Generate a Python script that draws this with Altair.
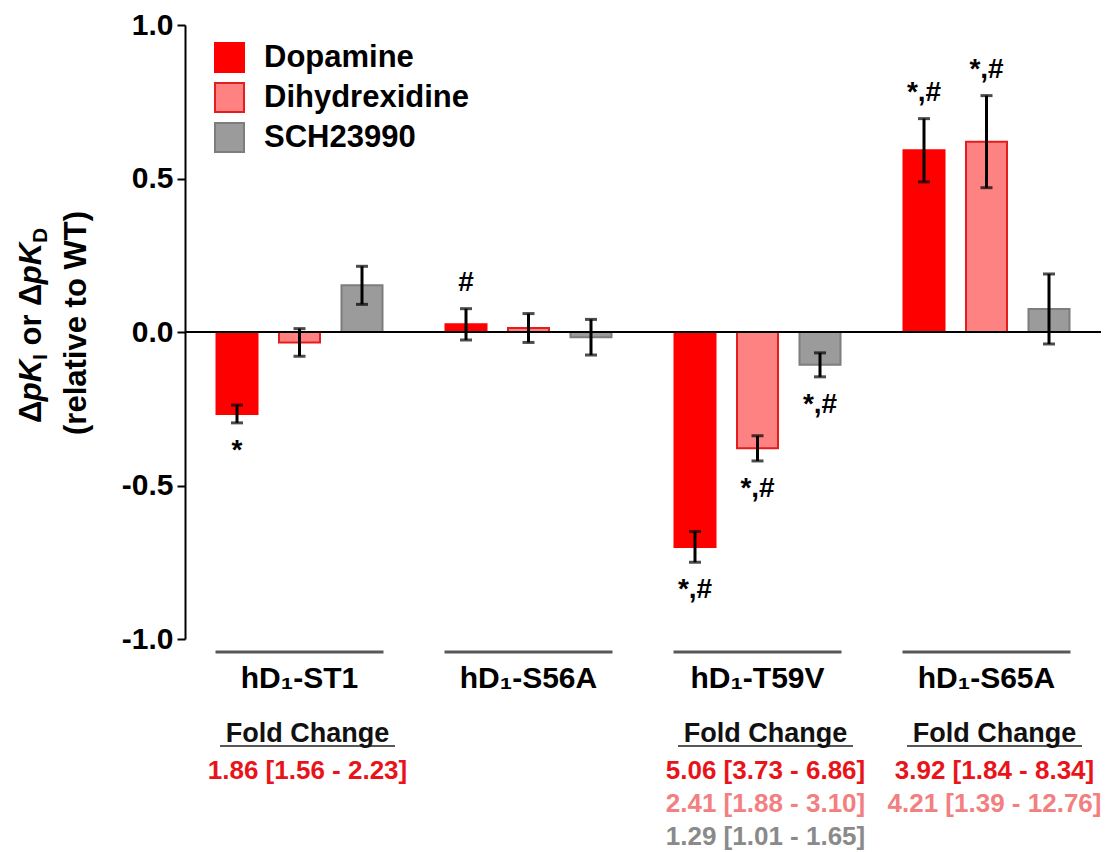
import altair as alt
import pandas as pd

FONT = "Liberation Sans"

groups = ["hD₁-ST1", "hD₁-S56A", "hD₁-T59V", "hD₁-S65A"]
drugs = ["Dopamine", "Dihydrexidine", "SCH23990"]

dopamine_mean = [-0.267, 0.025, -0.700, 0.592]
dopamine_sem = [0.029, 0.051, 0.050, 0.103]
dihydrexidine_mean = [-0.034, 0.013, -0.379, 0.620]
dihydrexidine_sem = [0.045, 0.047, 0.041, 0.150]
sch_mean = [0.152, -0.017, -0.107, 0.075]
sch_sem = [0.062, 0.058, 0.039, 0.114]

dopamine_sig = ["*", "#", "*,#", "*,#"]
dihydrexidine_sig = ["", "", "*,#", "*,#"]
sch_sig = ["", "", "*,#", ""]

fold_header_groups = ["hD₁-ST1", "hD₁-T59V", "hD₁-S65A"]
fold_groups = ["hD₁-ST1", "hD₁-T59V", "hD₁-T59V", "hD₁-T59V", "hD₁-S65A", "hD₁-S65A"]
fold_drugs = ["Dopamine", "Dopamine", "Dihydrexidine", "SCH23990", "Dopamine", "Dihydrexidine"]
fold_labels = ["1.86 [1.56 - 2.23]", "5.06 [3.73 - 6.86]", "2.41 [1.88 - 3.10]",
               "1.29 [1.01 - 1.65]", "3.92 [1.84 - 8.34]", "4.21 [1.39 - 12.76]"]

fill_colors = ["#ff0000", "#ff8282", "#9b9b9b"]
stroke_colors = ["#ff0000", "#e51d1d", "#7d7d7d"]
text_colors = ["#e8141a", "#f28080", "#8a8a8a"]

means = [dopamine_mean, dihydrexidine_mean, sch_mean]
sems = [dopamine_sem, dihydrexidine_sem, sch_sem]
sigs = [dopamine_sig, dihydrexidine_sig, sch_sig]

rows = []
for gi, g in enumerate(groups):
    for di, d in enumerate(drugs):
        rows.append({"group": g, "drug": d, "mean": means[di][gi],
                     "sem": sems[di][gi], "sig": sigs[di][gi]})
df = pd.DataFrame(rows)
fold_df = pd.DataFrame({"group": fold_groups, "drug": fold_drugs, "label": fold_labels})

W = 916
H = 614

x_axis = alt.Axis(title=None, domain=False, ticks=False, tickSize=0, labelAngle=0,
                  labelFont=FONT, labelFontSize=30, labelFontWeight="bold",
                  labelColor="black", labelPadding=24, labelBaseline="top")


def X():
    return alt.X("group:N", sort=groups,
                 scale=alt.Scale(domain=groups, paddingInner=0, paddingOuter=0),
                 axis=x_axis)


def XO():
    return alt.XOffset("drug:N", sort=drugs,
                       scale=alt.Scale(domain=drugs, paddingInner=0.344, paddingOuter=0.504))


y_axis = alt.Axis(title=None, values=[-1, -0.5, 0, 0.5, 1],
                  labelExpr="(datum.value < 0 ? '-' : '') + format(abs(datum.value), '.1f')",
                  grid=False, domainColor="black", domainWidth=2, tickColor="black",
                  tickWidth=2, tickSize=8, labelFont=FONT, labelFontSize=30,
                  labelFontWeight="bold", labelColor="black", labelPadding=4)


def Y(field):
    return alt.Y(field, scale=alt.Scale(domain=[-1, 1], nice=False, zero=False), axis=y_axis)


leg = alt.Legend(title=None, orient="none", legendX=29, legendY=17, direction="vertical",
                 symbolType="square", symbolSize=841, symbolStrokeWidth=2,
                 labelFont=FONT, labelFontSize=31, labelFontWeight="bold",
                 labelColor="black", labelOffset=19, labelLimit=0, rowPadding=3, padding=0)

bars = alt.Chart(df).mark_bar(strokeWidth=2).encode(
    x=X(), xOffset=XO(), y=Y("mean:Q"), y2=alt.datum(0),
    fill=alt.Fill("drug:N", sort=drugs, scale=alt.Scale(domain=drugs, range=fill_colors), legend=leg),
    stroke=alt.Stroke("drug:N", sort=drugs, scale=alt.Scale(domain=drugs, range=stroke_colors), legend=leg),
)

zero = alt.Chart(alt.Data(values=[{"zero": 0}])).mark_rule(color="black", strokeWidth=2).encode(
    y=Y("zero:Q"))

err = alt.Chart(df).transform_calculate(
    lo="datum.mean - datum.sem", hi="datum.mean + datum.sem"
).mark_rule(color="black", strokeWidth=3).encode(x=X(), xOffset=XO(), y=Y("lo:Q"), y2="hi:Q")

caps = alt.Chart(df).transform_calculate(
    lo="datum.mean - datum.sem", hi="datum.mean + datum.sem"
).transform_fold(["lo", "hi"], as_=["end", "yv"]).mark_tick(
    orient="horizontal", size=12, thickness=3, color="black"
).encode(x=X(), xOffset=XO(), y=Y("yv:Q"))

ann_up = alt.Chart(df).transform_filter("datum.sig != '' && datum.mean > 0").transform_calculate(
    hi="datum.mean + datum.sem"
).mark_text(dy=-26, baseline="middle", font=FONT, fontSize=28, fontWeight="bold", color="black").encode(
    x=X(), xOffset=XO(), y=Y("hi:Q"), text="sig:N")

ann_dn = alt.Chart(df).transform_filter("datum.sig != '' && datum.mean < 0").transform_calculate(
    lo="datum.mean - datum.sem"
).mark_text(dy=28, baseline="middle", font=FONT, fontSize=28, fontWeight="bold", color="black").encode(
    x=X(), xOffset=XO(), y=Y("lo:Q"), text="sig:N")

glines = alt.Chart(pd.DataFrame({"group": groups})).mark_tick(
    orient="horizontal", size=168, thickness=3, color="#111111"
).encode(x=X(), y=alt.value(H + 13))

fold_head = alt.Chart(pd.DataFrame({"group": fold_header_groups})).mark_text(
    text="Fold Change", dx=8, baseline="alphabetic", font=FONT, fontSize=27,
    fontWeight="bold", color="#111111"
).encode(x=X(), y=alt.value(717))

fold_ul = alt.Chart(pd.DataFrame({"group": fold_header_groups})).mark_tick(
    orient="horizontal", size=175, thickness=2, color="#111111", xOffset=8
).encode(x=X(), y=alt.value(721))

fold_vals = []
for i, d in enumerate(drugs):
    fold_vals.append(
        alt.Chart(fold_df).transform_filter(alt.datum.drug == d).mark_text(
            dx=8, baseline="alphabetic", font=FONT, fontSize=26, fontWeight="bold"
        ).encode(
            x=X(), y=alt.value(754 + 33 * i), text="label:N",
            color=alt.Color("drug:N", scale=alt.Scale(domain=drugs, range=text_colors), legend=None),
        )
    )

# y-axis title composed from pieces (subscripts)
FS = 31
SUB = 21
BASE_X = -144
SUB_X = -138


def piece(txt, y, size, italic=False, x=BASE_X, align="left"):
    return alt.Chart(alt.Data(values=[{"t": txt}])).mark_text(
        angle=270, align=align, baseline="alphabetic", font=FONT, fontSize=size,
        fontWeight="bold", fontStyle="italic" if italic else "normal", color="black"
    ).encode(text="t:N", x=alt.value(x), y=alt.value(y))


y0 = 398
w_delta = 0.70 * FS
w_pk = (0.611 + 0.722) * FS
w_I = 0.278 * SUB
w_sp = 0.278 * FS
w_or_delta = (0.611 + 0.389 + 0.278 + 0.70) * FS
w_D = 0.722 * SUB

p1 = y0
p2 = p1 - w_delta
p3 = p2 - w_pk
p4 = p3 - w_I - w_sp
p5 = p4 - w_or_delta
p6 = p5 - w_pk

title_pieces = [
    piece("Δ", p1, FS),
    piece("pK", p2, FS, italic=True),
    piece("I", p3, SUB, x=SUB_X),
    piece("or Δ", p4, FS),
    piece("pK", p5, FS, italic=True),
    piece("D", p6, SUB, x=SUB_X),
    piece("(relative to WT)", 298, FS, x=-99, align="center"),
]

chart = alt.layer(
    bars, zero, err, caps, ann_up, ann_dn, glines, fold_head, fold_ul, *fold_vals, *title_pieces
).properties(
    width=W, height=H,
    padding={"left": 177, "top": 17, "right": 8, "bottom": 222},
    autosize=alt.AutoSizeParams(type="none"),
).configure_view(stroke=None)

chart.save("out.html", embed_options={"renderer": "svg", "actions": False})
